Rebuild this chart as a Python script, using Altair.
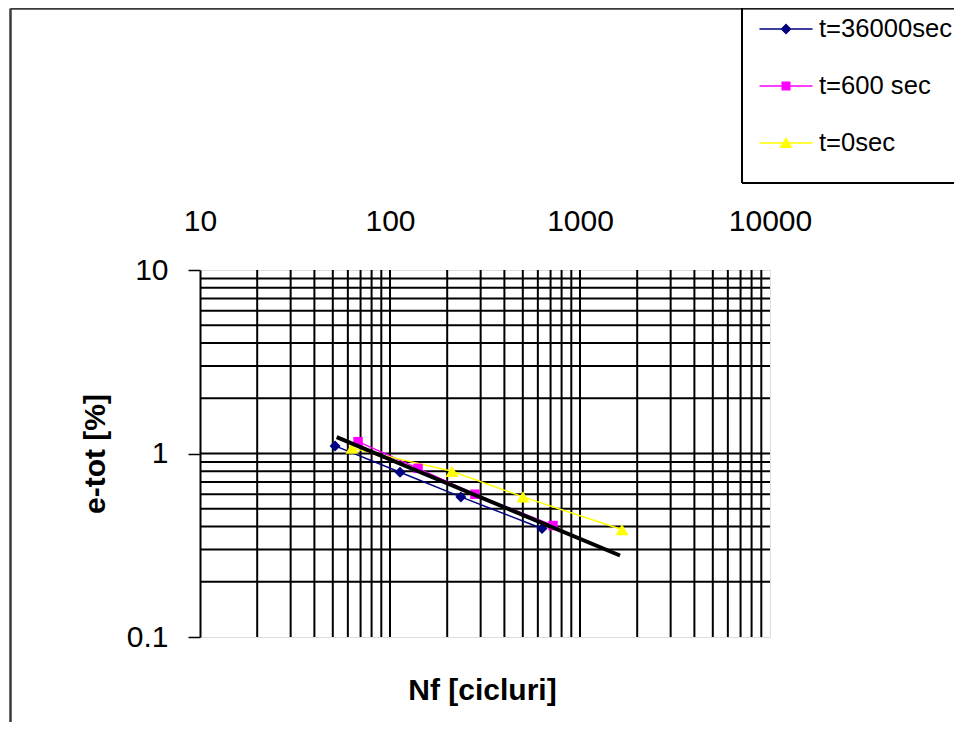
import altair as alt
import pandas as pd

FONT = "Liberation Sans"

series_names = ["t=36000sec", "t=600 sec", "t=0sec"]
series_colors = ["#000080", "#FF00FF", "#FFFF00"]
series_shapes = ["diamond", "square", "triangle-up"]
series_sizes = [121, 90, 169]

n_36000 = [51.4, 112.9, 236, 631]
e_36000 = [1.1, 0.79, 0.58, 0.39]
n_600 = [67.9, 140.4, 280, 721]
e_600 = [1.16, 0.83, 0.6, 0.405]
n_0 = [63.1, 212, 501, 1663]
e_0 = [1.07, 0.8, 0.58, 0.385]

trend_n = [52.4, 1624]
trend_e = [1.227, 0.278]

x_ticks = [10, 100, 1000, 10000]
y_ticks = [0.1, 1, 10]
x_grid = [20, 30, 40, 50, 60, 70, 80, 90, 100,
          200, 300, 400, 500, 600, 700, 800, 900, 1000,
          2000, 3000, 4000, 5000, 6000, 7000, 8000, 9000]
y_grid = [0.2, 0.3, 0.4, 0.5, 0.6, 0.7, 0.8, 0.9, 1,
          2, 3, 4, 5, 6, 7, 8, 9]

rows = []
for name, ns, es in [(series_names[0], n_36000, e_36000),
                     (series_names[1], n_600, e_600),
                     (series_names[2], n_0, e_0)]:
    for n, e in zip(ns, es):
        rows.append({"series": name, "N": n, "e": e})
df = pd.DataFrame(rows)
trend_df = pd.DataFrame({"N": trend_n, "e": trend_e})

W, H = 570, 367
PL, PT = 192, 262
TOTAL_W, TOTAL_H = 946, 714

x_scale = alt.Scale(type="log", domain=[10, 10000])
y_scale = alt.Scale(type="log", domain=[0.1, 10])

x_axis = alt.Axis(orient="top", values=x_ticks, format="d", grid=False, ticks=False,
                  tickSize=0, domain=False, labelFont=FONT, labelFontSize=30,
                  labelColor="black", labelPadding=34, labelAlign="center",
                  labelFlush=False, labelOverlap=False,
                  title="Nf [cicluri]", titleFont=FONT, titleFontSize=30,
                  titleFontWeight="bold", titleColor="black", titleX=282, titleY=420,
                  titleAlign="center", titleBaseline="middle")
y_axis = alt.Axis(orient="left", values=y_ticks, format="~g", grid=False, ticks=True,
                  tickSize=12, tickWidth=1.5, tickColor="black", domain=True,
                  domainColor="black", domainWidth=2, labelFont=FONT, labelFontSize=30,
                  labelColor="black", labelPadding=20, labelFlush=False, labelOverlap=False,
                  title="e-tot [%]", titleFont=FONT, titleFontSize=30,
                  titleFontWeight="bold", titleColor="black", titleAngle=270,
                  titleX=-105, titleY=183.5, titleAlign="center", titleBaseline="middle")

# legend symbols: line segment + marker, as custom paths (1 unit = 20 px)
LINE = "M-1.325,-0.0375L1.325,-0.0375L1.325,0.0375L-1.325,0.0375Z"
legend_paths = [
    LINE + "M0,-0.275L0.275,0L0,0.275L-0.275,0Z",
    LINE + "M-0.225,-0.225L0.225,-0.225L0.225,0.225L-0.225,0.225Z",
    LINE + "M0,-0.3L0.33,0.25L-0.33,0.25Z",
]

legend = alt.Legend(
    title=None, orient="none", legendX=542, legendY=-261, padding=0,
    rowPadding=23, symbolSize=1600, symbolOffset=24, labelOffset=13,
    symbolStrokeWidth=0, symbolOpacity=1, labelFont=FONT, labelFontSize=25.6,
    labelColor="black",
)

color_scale = alt.Scale(domain=series_names, range=series_colors)
X = alt.X("N:Q", scale=x_scale, axis=x_axis)
Y = alt.Y("e:Q", scale=y_scale, axis=y_axis)

# legend-only layer (no rows), first so that its legend settings win the merge
legend_layer = alt.Chart(df).transform_filter("false").mark_point(
    filled=True, opacity=1).encode(
    x=X, y=Y,
    color=alt.Color("series:N", scale=color_scale, legend=legend),
    shape=alt.Shape("series:N", scale=alt.Scale(domain=series_names, range=legend_paths),
                    legend=legend))

gx = alt.Chart(pd.DataFrame({"gx": x_grid})).mark_rule(color="black", strokeWidth=2).encode(
    x=alt.X("gx:Q", scale=x_scale, axis=x_axis))
gy = alt.Chart(pd.DataFrame({"gy": y_grid})).mark_rule(color="black", strokeWidth=2).encode(
    y=alt.Y("gy:Q", scale=y_scale, axis=y_axis))

lines = alt.Chart(df).mark_line(strokeWidth=1.5).encode(
    x=X, y=Y, color=alt.Color("series:N", scale=color_scale, legend=None))

point_layers = []
for name, shp, sz in zip(series_names, series_shapes, series_sizes):
    point_layers.append(
        alt.Chart(df).transform_filter(alt.datum.series == name)
        .mark_point(filled=True, opacity=1, size=sz, shape=shp)
        .encode(x=X, y=Y, color=alt.Color("series:N", scale=color_scale, legend=None)))

trend = alt.Chart(trend_df).mark_line(color="black", strokeWidth=4).encode(x=X, y=Y)

# decorative frame: outer chart border and legend box edges
one = pd.DataFrame({"a": [0]})
frame = [
    alt.Chart(one).mark_rule(color="#3a3a3a", strokeWidth=2.5).encode(
        x=alt.value(-189.5), y=alt.value(-261.5), y2=alt.value(TOTAL_H - PT)),
    alt.Chart(one).mark_rule(color="#3a3a3a", strokeWidth=2.5).encode(
        x=alt.value(-189.5), x2=alt.value(TOTAL_W - PL), y=alt.value(-261.5)),
    alt.Chart(one).mark_rule(color="black", strokeWidth=2).encode(
        x=alt.value(542), y=alt.value(-262.5), y2=alt.value(-87)),
    alt.Chart(one).mark_rule(color="black", strokeWidth=2).encode(
        x=alt.value(542), x2=alt.value(TOTAL_W - PL), y=alt.value(-87)),
    alt.Chart(one).mark_rule(color="black", strokeWidth=2).encode(
        x=alt.value(542), x2=alt.value(TOTAL_W - PL), y=alt.value(-262.5)),
]

chart = alt.layer(legend_layer, gx, gy, lines, *point_layers, trend, *frame).properties(
    width=W, height=H,
    padding={"left": PL, "top": PT, "right": TOTAL_W - PL - W, "bottom": TOTAL_H - PT - H},
    autosize=alt.AutoSizeParams(type="none"),
).configure_view(stroke="#a0a0a0", strokeWidth=2).configure(background="white")

chart.save("out.html", embed_options={"renderer": "svg", "actions": False})
